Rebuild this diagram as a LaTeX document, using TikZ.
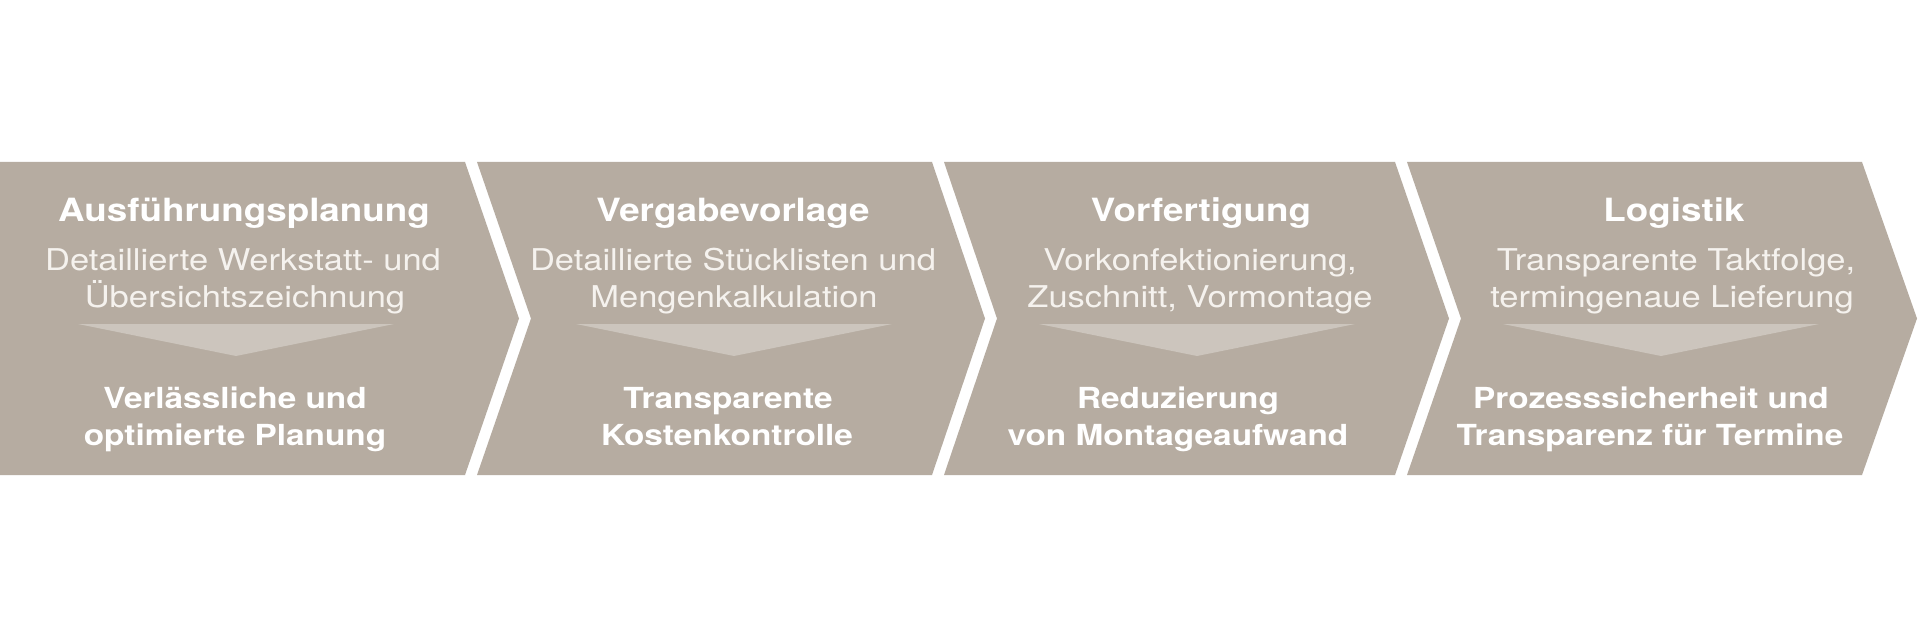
\documentclass[tikz,border=0pt]{standalone}
\usepackage{fontspec}
\newfontfamily\hfont[FakeStretch=1.15]{TeX Gyre Heros}
\definecolor{band}{RGB}{182,172,161}
\definecolor{tri}{RGB}{204,197,189}
\definecolor{desc}{RGB}{245,242,238}
\begin{document}
\begin{tikzpicture}[x=1pt,y=-1pt,
  chev/.style={fill=band,draw=none},
  arr/.style={fill=tri,draw=none},
  ttl/.style={anchor=base,inner sep=0pt,text=white,font=\hfont\bfseries\fontsize{32}{37}\selectfont},
  dsc/.style={anchor=base,inner sep=0pt,text=desc,font=\hfont\fontsize{30}{37}\selectfont},
  res/.style={anchor=base,inner sep=0pt,text=white,font=\hfont\bfseries\fontsize{29}{37}\selectfont}]
\useasboundingbox[fill=white] (0,0) rectangle (1920,639);
% chevrons
\fill[chev] (0,162) -- (465,162) -- (519,318.5) -- (465,475) -- (0,475) -- cycle;
\fill[chev] (477,162) -- (932,162) -- (985,318.5) -- (932,475) -- (477,475) -- (531,318.5) -- cycle;
\fill[chev] (944,162) -- (1395,162) -- (1449,318.5) -- (1395,475) -- (944,475) -- (997,318.5) -- cycle;
\fill[chev] (1407,162) -- (1862,162) -- (1917,318.5) -- (1862,475) -- (1407,475) -- (1461,318.5) -- cycle;
% arrows
\fill[arr] (78,324) -- (394,324) -- (236,356) -- cycle;
\fill[arr] (576,324) -- (892,324) -- (734,356) -- cycle;
\fill[arr] (1039,324) -- (1355,324) -- (1197,356) -- cycle;
\fill[arr] (1503,324) -- (1819,324) -- (1661,356) -- cycle;
% stage 1
\node[ttl] (t1) at (244,222) {Ausführungsplanung};
\node[dsc] (d1a) at (243,270) {Detaillierte Werkstatt- und};
\node[dsc] (d1b) at (245,307) {Übersichtszeichnung};
\node[res] (r1a) at (235,408) {Verlässliche und};
\node[res] (r1b) at (235,445) {optimierte Planung};
% stage 2
\node[ttl] (t2) at (733,222) {Vergabevorlage};
\node[dsc] (d2a) at (733,270) {Detaillierte Stücklisten und};
\node[dsc] (d2b) at (734,307) {Mengenkalkulation};
\node[res] (r2a) at (728,408) {Transparente};
\node[res] (r2b) at (727,445) {Kostenkontrolle};
% stage 3
\node[ttl] (t3) at (1201,222) {Vorfertigung};
\node[dsc] (d3a) at (1200,270) {Vorkonfektionierung,};
\node[dsc] (d3b) at (1200,307) {Zuschnitt, Vormontage};
\node[res] (r3a) at (1178,408) {Reduzierung};
\node[res] (r3b) at (1178,445) {von Montageaufwand};
% stage 4
\node[ttl] (t4) at (1674,222) {Logistik};
\node[dsc] (d4a) at (1676,270) {Transparente Taktfolge,};
\node[dsc] (d4b) at (1672,307) {termingenaue Lieferung};
\node[res] (r4a) at (1651,408) {Prozesssicherheit und};
\node[res] (r4b) at (1650,445) {Transparenz für Termine};
\end{tikzpicture}
\end{document}
